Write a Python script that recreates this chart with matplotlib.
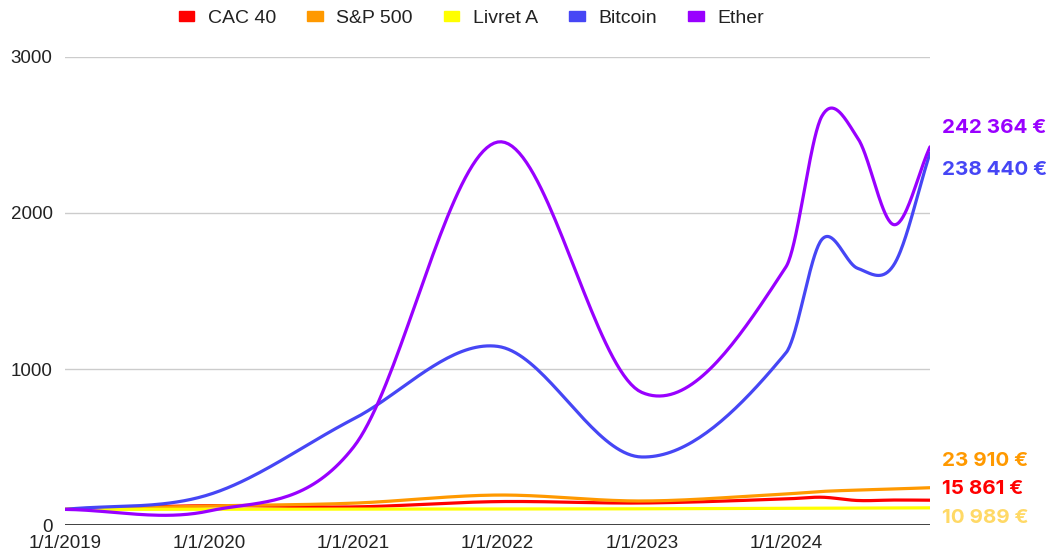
import numpy as np
import pandas as pd
import matplotlib
matplotlib.use("Agg")
import matplotlib.pyplot as plt
import matplotlib.dates as mdates
import matplotlib.patches as mpatches

# value of 100 invested on 1/1/2019 (x100 = euros for 10 000 €)
dates = pd.to_datetime(["2019-01-01", "2020-01-01", "2021-01-01", "2022-01-01",
                        "2023-01-01", "2024-01-01", "2024-04-01", "2024-07-01",
                        "2024-10-01", "2024-12-31"])
cac40 = [100, 124, 116, 150, 141, 167, 178, 157, 160, 159]
sp500 = [100, 122, 140, 192, 154, 199, 215, 224, 231, 239]
livret_a = [100, 100.75, 101.25, 101.76, 103.8, 107.0, 107.8, 108.6, 109.4, 109.9]
bitcoin = [100, 195, 680, 1145, 436, 1103, 1830, 1645, 1670, 2384]
ether = [100, 90, 500, 2455, 850, 1654, 2620, 2480, 1925, 2424]

names = ["CAC 40", "S&P 500", "Livret A", "Bitcoin", "Ether"]
colors = ["#ff0000", "#ff9900", "#ffff00", "#4646f5", "#9900ff"]
final_labels = ["242 364 €", "238 440 €", "23 910 €", "15 861 €", "10 989 €"]
label_colors = ["#9900ff", "#4646f5", "#ff9900", "#ff0000", "#ffd966"]

yticks = [0, 1000, 2000, 3000]
xtick_dates = pd.to_datetime(["2019-01-01", "2020-01-01", "2021-01-01",
                              "2022-01-01", "2023-01-01", "2024-01-01"])


def smooth(x, y, n=40):
    # cubic hermite through the points, like the "smooth" option of the sheet
    x = np.asarray(x, float)
    y = np.asarray(y, float)
    m = np.empty_like(y)
    m[1:-1] = (y[2:] - y[:-2]) / (x[2:] - x[:-2])
    m[0] = (y[1] - y[0]) / (x[1] - x[0])
    m[-1] = (y[-1] - y[-2]) / (x[-1] - x[-2])
    xs, ys = [], []
    for i in range(len(x) - 1):
        h = x[i + 1] - x[i]
        s = np.linspace(0, 1, n, endpoint=False)
        h00 = 2 * s**3 - 3 * s**2 + 1
        h10 = s**3 - 2 * s**2 + s
        h01 = -2 * s**3 + 3 * s**2
        h11 = s**3 - s**2
        xs.append(x[i] + s * h)
        ys.append(h00 * y[i] + h10 * h * m[i] + h01 * y[i + 1] + h11 * h * m[i + 1])
    xs.append([x[-1]])
    ys.append([y[-1]])
    return np.concatenate(xs), np.concatenate(ys)


plt.rcParams['font.family'] = ['Liberation Sans', 'DejaVu Sans']
fig = plt.figure(figsize=(10.52, 5.53), dpi=100)
ax = fig.add_axes([65 / 1052, 28 / 553, 865 / 1052, 468 / 553])

xnum = mdates.date2num(dates)
series = [cac40, sp500, livret_a, bitcoin, ether]
for vals, col in zip(series, colors):
    sx, sy = smooth(xnum, vals)
    ax.plot(sx, sy, color=col, lw=2.3, solid_capstyle="round", zorder=3)

ax.set_xlim(xnum[0], xnum[-1])
ax.set_ylim(0, 3000)
ax.set_yticks(yticks)
ax.set_yticklabels([str(v) for v in yticks])
ax.set_xticks(mdates.date2num(xtick_dates))
ax.set_xticklabels([f"{d.month}/{d.day}/{d.year}" for d in xtick_dates])
ax.tick_params(axis="both", length=0, labelsize=13.5, colors="#222222")
ax.tick_params(axis="x", pad=7)
ax.tick_params(axis="y", pad=9)
ax.grid(axis="y", color="#cccccc", lw=1)
ax.axhline(0, color="#333333", lw=1.3, zorder=4)
for sp in ax.spines.values():
    sp.set_visible(False)

handles = [mpatches.Patch(color=c, label=n) for n, c in zip(names, colors)]
fig.legend(handles=handles, loc="center", bbox_to_anchor=(0.448, 0.966), ncol=5,
           frameon=False, fontsize=14, handlelength=0.8, handleheight=0.4,
           handletextpad=0.7, columnspacing=1.6, labelcolor="#222222")

label_y = [128, 170, 461, 489, 518]
for txt, col, py in zip(final_labels, label_colors, label_y):
    fig.text(942 / 1052, 1 - py / 553, txt, color=col, fontsize=14.8,
             fontweight="bold", family=["Inter", "DejaVu Sans"], va="center", ha="left")

fig.savefig("out.png", dpi=100)
